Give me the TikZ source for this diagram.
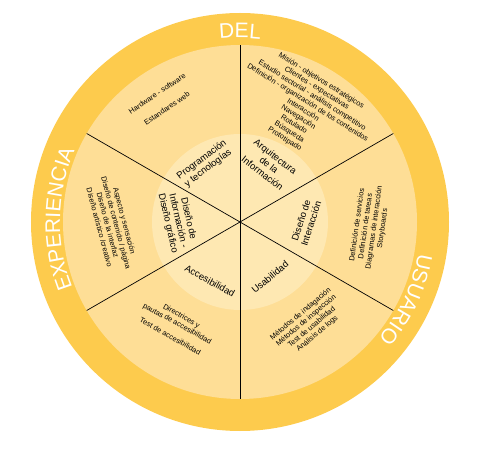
\documentclass[tikz,border=0pt]{standalone}
\usepackage{fontspec}
\setmainfont{Liberation Sans}
\usetikzlibrary{decorations.text}
\definecolor{anillo}{RGB}{253,203,77}
\definecolor{banda}{RGB}{254,222,150}
\definecolor{nucleo}{RGB}{254,232,178}

\begin{document}
\begin{tikzpicture}[x=1pt,y=1pt,
    area/.style={font=\fontsize{9.5}{10.5}\selectfont,align=center,inner sep=0pt},
    lista/.style={font=\fontsize{7.4}{8.6}\selectfont,align=center,inner sep=0pt},
    rotulo/.style={decorate,decoration={text along path,text align=center,text color=white,
        text={|\fontsize{21}{21}\selectfont|#1}}}]

\useasboundingbox (-240,-227) rectangle (252,222);

\fill[anillo] (0,0) circle (209pt);
\fill[banda] (0,0) circle (177pt);
\fill[nucleo] (0,0) circle (88pt);

\foreach \a in {30,90,...,330}
  \draw[line width=0.7pt] (0,0) -- (\a:177);

\path[rotulo=DEL] (120:184) arc[start angle=120,end angle=60,radius=184pt];
\path[rotulo=EXPERIENCIA] (230:180) arc[start angle=230,end angle=128,radius=180pt];
\path[rotulo=USUARIO] (5:181) arc[start angle=5,end angle=-55,radius=181pt];

\node[area,rotate=37] (prog) at (-35,58) {Programación\\y tecnologías};
\node[area,rotate=-38] (arq) at (29,57) {Arquitectura\\de la\\Información};
\node[area,rotate=-77] (dinf) at (-62,1) {Diseño de\\Información -\\Diseño gráfico};
\node[area,rotate=72] (dint) at (66,0) {Diseño de\\Interacción};
\node[area,rotate=-29] (acces) at (-30,-59) {Accesibilidad};
\node[area,rotate=40] (usab) at (30,-55) {Usabilidad};

\node[lista,rotate=34] (hw) at (-78,121) {Hardware - software\\[9pt]Estandares web};
\node[lista,rotate=-32] (ia) at (63,112) {Misión - objetivos estratégicos\\Clientes - expectativas\\Estudio sectorial - análisis competitivo\\Definición - organización de los contenidos\\Interacción\\Navegación\\Rotulado\\Búsqueda\\Prototipado};
\node[lista,rotate=-75] (dg) at (-128,-2) {Aspecto y sensación\\Diseño de contenido / página\\Diseño de la interfaz\\Diseño artístico /creativo};
\node[lista,rotate=82] (dt) at (130,-5) {Definición de servicios\\Definición de tareas\\Diagramas de interacción\\Storyboards};
\node[lista,rotate=-29] (ac) at (-64,-104) {Directrices y\\pautas de accesibilidad\\[6pt]Test de accesibilidad};
\node[lista,rotate=40] (ut) at (69,-102) {Métodos de indagación\\Métodos de inspección\\Test de usabilidad\\Análisis de logs};

\end{tikzpicture}
\end{document}
